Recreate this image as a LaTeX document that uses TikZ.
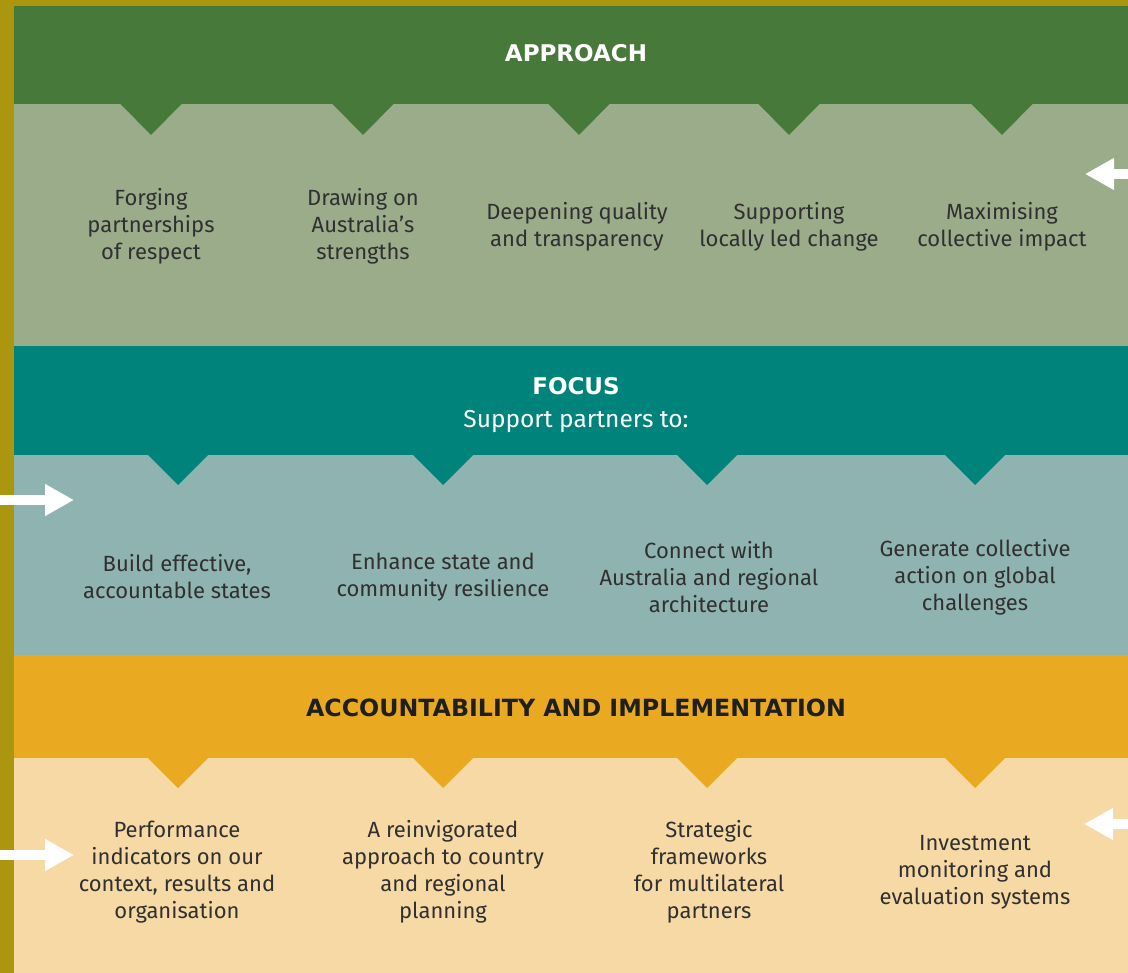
\documentclass[tikz,border=0pt]{standalone}
\usepackage{fontspec}
\setmainfont{Fira Sans}
\newfontfamily\titlefont{DejaVu Sans}
\usetikzlibrary{arrows.meta}
\definecolor{olive}{HTML}{AD960F}
\definecolor{hgreen}{HTML}{477A3A}
\definecolor{lgreen}{HTML}{9AAC8A}
\definecolor{hteal}{HTML}{00837A}
\definecolor{lteal}{HTML}{8FB3B0}
\definecolor{hgold}{HTML}{E9AA22}
\definecolor{lgold}{HTML}{F7D9A5}
\definecolor{txt}{HTML}{303030}
\begin{document}
\begin{tikzpicture}[x=1pt,y=-1pt,
  itemtext/.style={align=center,text=txt,font=\fontsize{22}{27}\selectfont,inner sep=0pt},
  titletext/.style={align=center,font=\titlefont\fontsize{23}{28}\selectfont\bfseries,inner sep=0pt},
  warrow/.style={draw=white,line width=10pt,-{Triangle[length=29pt,width=30pt]}}
]
\useasboundingbox (0,0) rectangle (1128,973);
\fill[olive] (0,0) rectangle (1128,973);
% bands
\fill[hgreen] (14,6) rectangle (1128,104);
\fill[lgreen] (14,104) rectangle (1128,346);
\fill[hteal] (14,346) rectangle (1128,455);
\fill[lteal] (14,455) rectangle (1128,655);
\fill[hgold] (14,655) rectangle (1128,758);
\fill[lgold] (14,758) rectangle (1128,973);
% chevrons
\foreach \cx in {151,363,579,789,1002}
  \fill[hgreen] (\cx-31.5,103) -- (\cx+31.5,103) -- (\cx,135) -- cycle;
\foreach \cx in {178,443,707,975}
  \fill[hteal] (\cx-31,454) -- (\cx+31,454) -- (\cx,485) -- cycle;
\foreach \cx in {178,443,707,975}
  \fill[hgold] (\cx-31,757) -- (\cx+31,757) -- (\cx,788) -- cycle;
% titles
\node[titletext,text=white] (approach) at (576,53) {APPROACH};
\node[titletext,text=white] (focus) at (576,386) {FOCUS};
\node[itemtext,text=white,font=\fontsize{24.5}{28}\selectfont] (support) at (576,422) {Support partners to:};
\node[titletext,text=black!88,font=\titlefont\fontsize{23.7}{28}\selectfont\bfseries] (acc) at (576,708) {ACCOUNTABILITY AND IMPLEMENTATION};
% approach items
\node[itemtext] (a1) at (151,226.5) {Forging\\partnerships\\of respect};
\node[itemtext] (a2) at (363,226.5) {Drawing on\\Australia’s\\strengths};
\node[itemtext] (a3) at (577,227) {Deepening quality\\and transparency};
\node[itemtext] (a4) at (789,227) {Supporting\\locally led change};
\node[itemtext] (a5) at (1002,227) {Maximising\\collective impact};
% focus items
\node[itemtext] (f1) at (177,577) {Build effective,\\accountable states};
\node[itemtext] (f2) at (443,577) {Enhance state and\\community resilience};
\node[itemtext] (f3) at (709,577) {Connect with\\Australia and regional\\architecture};
\node[itemtext] (f4) at (975,577) {Generate collective\\action on global\\challenges};
% accountability items
\node[itemtext] (b1) at (177,872) {Performance\\indicators on our\\context, results and\\organisation};
\node[itemtext] (b2) at (443,872) {A reinvigorated\\approach to country\\and regional\\planning};
\node[itemtext] (b3) at (709,872) {Strategic\\frameworks\\for multilateral\\partners};
\node[itemtext] (b4) at (975,872) {Investment\\monitoring and\\evaluation systems};
% arrows
\coordinate (r1s) at (1128,174); \coordinate (r1e) at (1085,174);
\coordinate (l1s) at (0,500);    \coordinate (l1e) at (74,500);
\coordinate (l2s) at (0,855);    \coordinate (l2e) at (74,855);
\coordinate (r2s) at (1128,824); \coordinate (r2e) at (1084,824);
\draw[warrow] (r1s) -- (r1e);
\draw[warrow] (l1s) -- (l1e);
\draw[warrow] (l2s) -- (l2e);
\draw[warrow] (r2s) -- (r2e);
\end{tikzpicture}
\end{document}
